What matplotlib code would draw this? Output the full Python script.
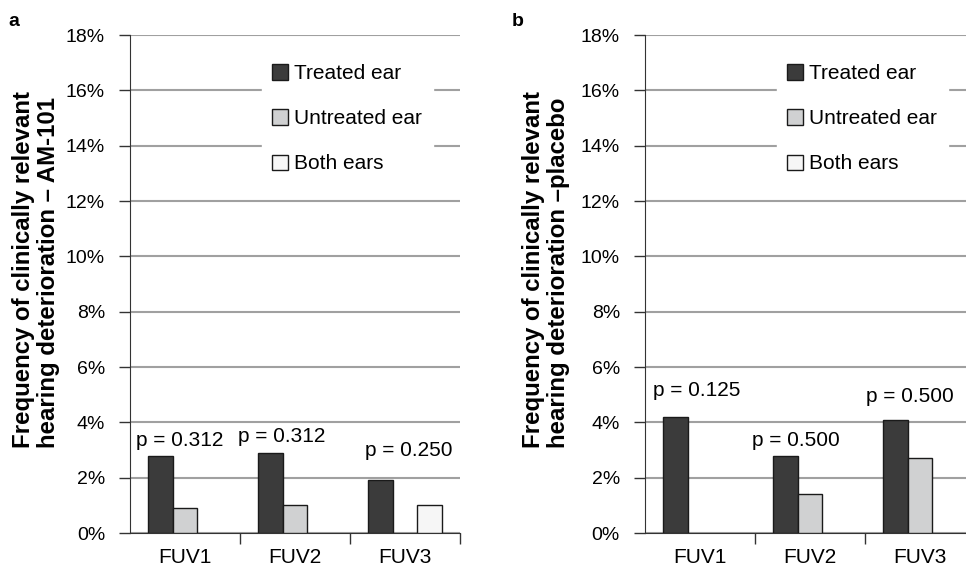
import numpy as np
import matplotlib.pyplot as plt

plt.rcParams['font.family'] = ['Liberation Sans', 'DejaVu Sans']

### data (percent)
groups = ["FUV1", "FUV2", "FUV3"]
series = ["Treated ear", "Untreated ear", "Both ears"]
colors = ["#3b3b3b", "#d0d1d2", "#f6f6f6"]

am101_treated = [2.8, 2.9, 1.9]
am101_untreated = [0.9, 1.0, 0.0]
am101_both = [0.0, 0.0, 1.0]
am101_p = ["p = 0.312", "p = 0.312", "p = 0.250"]

placebo_treated = [4.2, 2.8, 4.1]
placebo_untreated = [0.0, 1.4, 2.7]
placebo_both = [0.0, 0.0, 0.0]
placebo_p = ["p = 0.125", "p = 0.500", "p = 0.500"]

yticks = [0, 2, 4, 6, 8, 10, 12, 14, 16, 18]

# where the p labels sit (x in category units, y baseline in %)
am101_p_pos = [(-0.05, 3.15), (0.88, 3.28), (2.03, 2.77)]
placebo_p_pos = [(-0.03, 4.96), (0.87, 3.14), (1.91, 4.74)]


def draw_panel(ax, vals, ptext, ppos, ylab, letter, letter_x, ylab_x):
    width = 0.227
    x = np.arange(len(groups))
    for k, (v, c, name) in enumerate(zip(vals, colors, series)):
        v = np.array(v)
        keep = v > 0
        # empty bars are not drawn, but still get a legend entry
        ax.bar(x[keep] + (k - 1) * width, v[keep], width, color=c,
               edgecolor="#1a1a1a", linewidth=1.0, zorder=3)
        ax.bar([np.nan], [np.nan], width, color=c, edgecolor="#1a1a1a",
               linewidth=1.0, label=name)
    for t, (px, py) in zip(ptext, ppos):
        ax.text(px, py, t, ha="center", va="baseline", fontsize=15, zorder=4)

    ax.set_xlim(-0.5, 2.5)
    ax.set_ylim(0, 18)
    ax.set_yticks(yticks)
    ax.set_yticklabels(["%d%%" % t for t in yticks], fontsize=14)
    ax.set_xticks(x)
    ax.set_xticklabels(groups, fontsize=15)
    ax.set_xticks([0.5, 1.5, 2.5], minor=True)
    ax.tick_params(axis="x", which="major", length=0, pad=10.5)
    ax.tick_params(axis="x", which="minor", length=8, width=1, color="#333333")
    ax.tick_params(axis="y", length=8, width=1, color="#333333", pad=10)
    ax.yaxis.grid(True, color="#a0a0a0", linewidth=1.5, zorder=0)
    ax.set_axisbelow(True)
    for s in ["top", "right"]:
        ax.spines[s].set_visible(False)
    ax.spines["left"].set_color("#333333")
    ax.spines["bottom"].set_color("#333333")

    fig = ax.figure
    fig.text(ylab_x, 1 - 448 / 566, ylab, rotation=90, fontsize=17.3,
             fontweight="bold", ha="center", va="bottom",
             multialignment="left", linespacing=1.15)

    leg = ax.legend(loc="upper left", bbox_to_anchor=(0.4, 0.962),
                    fontsize=15, frameon=True, fancybox=False,
                    handlelength=0.75, handleheight=0.75, handletextpad=0.3,
                    labelspacing=1.25, borderpad=0.5, borderaxespad=0)
    leg.get_frame().set_facecolor("white")
    leg.get_frame().set_edgecolor("white")
    leg.get_frame().set_alpha(1)
    fig.text(letter_x, 1 - 22 / 566, letter, fontsize=14,
             fontweight="bold", va="center")


fig = plt.figure(figsize=(9.66, 5.66), dpi=100)
ax1 = fig.add_axes([130 / 966, 1 - 533 / 566, 330 / 966, 498 / 566])
ax2 = fig.add_axes([645 / 966, 1 - 533 / 566, 330 / 966, 498 / 566])

draw_panel(ax1, [am101_treated, am101_untreated, am101_both], am101_p,
           am101_p_pos,
           "Frequency of clinically relevant\nhearing deterioration \u2013 AM-101",
           "a", 8 / 966, 36 / 966)
draw_panel(ax2, [placebo_treated, placebo_untreated, placebo_both], placebo_p,
           placebo_p_pos,
           "Frequency of clinically relevant\nhearing deterioration \u2013placebo",
           "b", 512 / 966, 546 / 966)

plt.savefig("out.png", dpi=100)
